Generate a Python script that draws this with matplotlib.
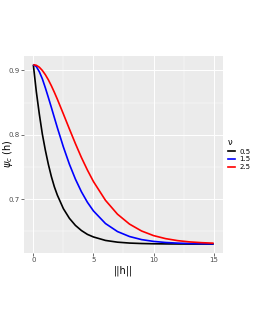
import matplotlib
matplotlib.use("Agg")
import matplotlib.pyplot as plt
from matplotlib.lines import Line2D

# data
h = [0, 0.25, 0.5, 0.75, 1, 1.25, 1.5, 1.75, 2, 2.5, 3, 3.5, 4, 4.5, 5,
     6, 7, 8, 9, 10, 11, 12, 13, 14, 15]
psi_05 = [0.909, 0.867, 0.832, 0.801, 0.776, 0.754, 0.735, 0.719, 0.706, 0.685,
          0.670, 0.659, 0.651, 0.645, 0.641, 0.6356, 0.6329, 0.6315, 0.6308,
          0.6304, 0.6302, 0.6301, 0.6300, 0.6300, 0.6300]
psi_15 = [0.909, 0.906, 0.898, 0.887, 0.873, 0.858, 0.8425, 0.8266, 0.8109, 0.781,
          0.7542, 0.731, 0.7113, 0.6949, 0.6815, 0.6619, 0.6494, 0.6417, 0.6369,
          0.6341, 0.6324, 0.6314, 0.6308, 0.6305, 0.6303]
psi_25 = [0.909, 0.908, 0.905, 0.900, 0.8934, 0.8854, 0.8762, 0.866, 0.8552, 0.8323,
          0.809, 0.7862, 0.7646, 0.745, 0.7272, 0.698, 0.6764, 0.661, 0.6503,
          0.6431, 0.6384, 0.6353, 0.6333, 0.6321, 0.6313]
nu_labels = ["0.5", "1.5", "2.5"]
colors = ["black", "blue", "red"]
x_ticks = [0, 5, 10, 15]
y_ticks = [0.7, 0.8, 0.9]

fig = plt.figure(figsize=(2.55, 3.3), dpi=100)
ax = fig.add_axes([24.3 / 255, 1 - 253 / 330, (222.7 - 24.3) / 255, (253 - 55.7) / 330])
ax.set_facecolor("#EBEBEB")
for s in ax.spines.values():
    s.set_visible(False)

for ys, c in zip([psi_05, psi_15, psi_25], colors):
    ax.plot(h, ys, color=c, lw=1.2, solid_capstyle="butt", solid_joinstyle="round", zorder=3)

ax.set_xlim(-0.75, 15.75)
ymin, ymax = 0.630, 0.909
pad = (ymax - ymin) * 0.05
ax.set_ylim(ymin - pad, ymax + pad)

ax.set_xticks(x_ticks)
ax.set_xticklabels([str(t) for t in x_ticks])
ax.set_yticks(y_ticks)
ax.set_yticklabels([f"{t:.1f}" for t in y_ticks])
ax.set_xticks([2.5, 7.5, 12.5], minor=True)
ax.set_yticks([0.65, 0.75, 0.85], minor=True)
ax.grid(True, which="major", color="white", lw=0.7, zorder=1)
ax.grid(True, which="minor", color="white", lw=0.35, zorder=1)
ax.tick_params(which="major", length=2, width=0.5, color="#333333",
               labelsize=5, labelcolor="#4D4D4D", pad=1)
ax.tick_params(which="minor", length=0)

ax.set_xlabel("||h||", fontsize=7, labelpad=1.5)
fig.text(8 / 255, 1 - 154 / 330, r"$\psi_c$ (h)", rotation=90, fontsize=7,
         ha="center", va="center")

handles = [Line2D([], [], color=c, lw=1.2) for c in colors]
leg = fig.legend(handles, nu_labels, title="ν", loc="center left",
                 bbox_to_anchor=(228 / 255, 1 - 154 / 330), frameon=False,
                 fontsize=5, title_fontsize=6, handlelength=1.0, handletextpad=0.6,
                 labelspacing=0.25, borderaxespad=0, borderpad=0)
leg._legend_box.align = "left"

fig.savefig("out.png", dpi=100)
